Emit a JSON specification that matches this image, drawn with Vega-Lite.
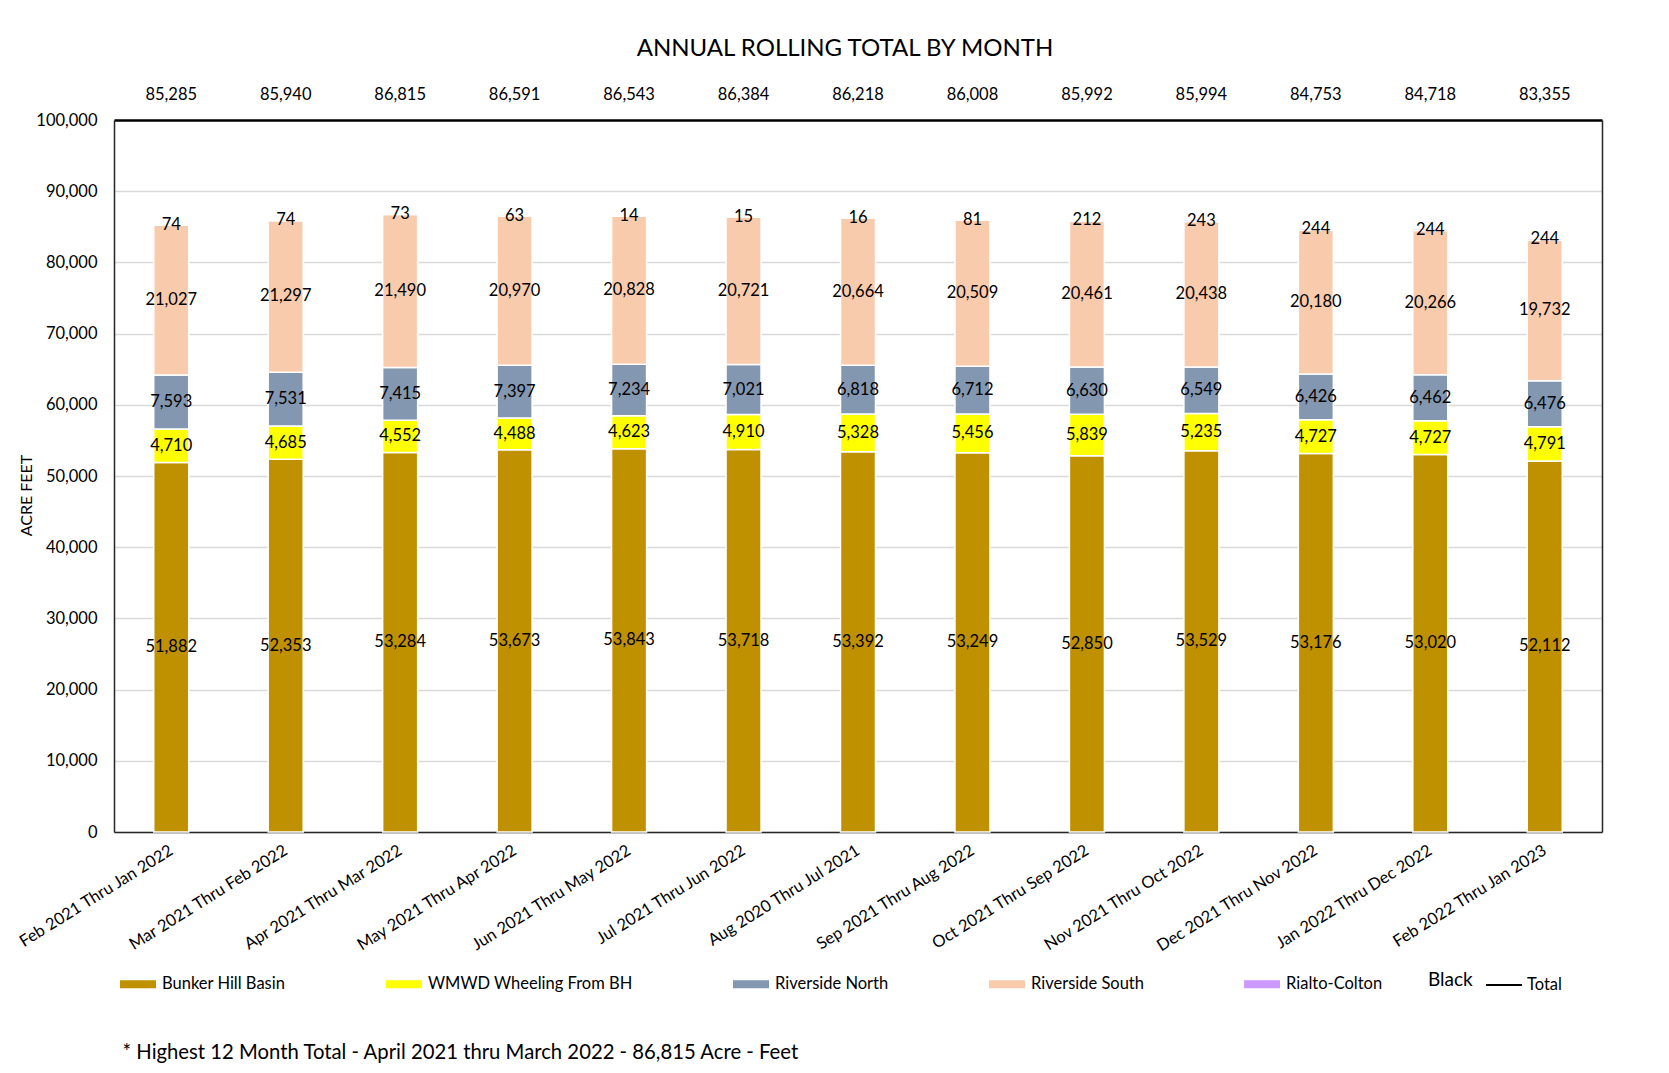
{
  "$schema": "https://vega.github.io/schema/vega-lite/v6.json",
  "width": 1488,
  "height": 712,
  "autosize": {"type": "none"},
  "padding": {"left": 114, "top": 120, "right": 67, "bottom": 241},
  "background": "white",
  "title": {"text": "ANNUAL  ROLLING TOTAL BY MONTH", "fontSize": 24, "fontWeight": "normal", "color": "black", "anchor": "middle", "dx": -13, "offset": 26},
  "config": {
    "font": "Lato",
    "view": {"stroke": null},
    "axis": {"labelColor": "black", "titleColor": "black", "domainColor": "#262626"}
  },
  "datasets": {
    "parts": [
      {"period": "Feb 2021 Thru Jan 2022", "series": "Bunker Hill Basin", "value": 51882},
      {"period": "Feb 2021 Thru Jan 2022", "series": "WMWD Wheeling From BH", "value": 4710},
      {"period": "Feb 2021 Thru Jan 2022", "series": "Riverside North", "value": 7593},
      {"period": "Feb 2021 Thru Jan 2022", "series": "Riverside South", "value": 21027},
      {"period": "Feb 2021 Thru Jan 2022", "series": "Rialto-Colton", "value": 74},
      {"period": "Mar 2021 Thru Feb 2022", "series": "Bunker Hill Basin", "value": 52353},
      {"period": "Mar 2021 Thru Feb 2022", "series": "WMWD Wheeling From BH", "value": 4685},
      {"period": "Mar 2021 Thru Feb 2022", "series": "Riverside North", "value": 7531},
      {"period": "Mar 2021 Thru Feb 2022", "series": "Riverside South", "value": 21297},
      {"period": "Mar 2021 Thru Feb 2022", "series": "Rialto-Colton", "value": 74},
      {"period": "Apr 2021 Thru Mar 2022", "series": "Bunker Hill Basin", "value": 53284},
      {"period": "Apr 2021 Thru Mar 2022", "series": "WMWD Wheeling From BH", "value": 4552},
      {"period": "Apr 2021 Thru Mar 2022", "series": "Riverside North", "value": 7415},
      {"period": "Apr 2021 Thru Mar 2022", "series": "Riverside South", "value": 21490},
      {"period": "Apr 2021 Thru Mar 2022", "series": "Rialto-Colton", "value": 73},
      {"period": "May 2021 Thru Apr 2022", "series": "Bunker Hill Basin", "value": 53673},
      {"period": "May 2021 Thru Apr 2022", "series": "WMWD Wheeling From BH", "value": 4488},
      {"period": "May 2021 Thru Apr 2022", "series": "Riverside North", "value": 7397},
      {"period": "May 2021 Thru Apr 2022", "series": "Riverside South", "value": 20970},
      {"period": "May 2021 Thru Apr 2022", "series": "Rialto-Colton", "value": 63},
      {"period": "Jun 2021 Thru May 2022", "series": "Bunker Hill Basin", "value": 53843},
      {"period": "Jun 2021 Thru May 2022", "series": "WMWD Wheeling From BH", "value": 4623},
      {"period": "Jun 2021 Thru May 2022", "series": "Riverside North", "value": 7234},
      {"period": "Jun 2021 Thru May 2022", "series": "Riverside South", "value": 20828},
      {"period": "Jun 2021 Thru May 2022", "series": "Rialto-Colton", "value": 14},
      {"period": "Jul 2021 Thru Jun 2022", "series": "Bunker Hill Basin", "value": 53718},
      {"period": "Jul 2021 Thru Jun 2022", "series": "WMWD Wheeling From BH", "value": 4910},
      {"period": "Jul 2021 Thru Jun 2022", "series": "Riverside North", "value": 7021},
      {"period": "Jul 2021 Thru Jun 2022", "series": "Riverside South", "value": 20721},
      {"period": "Jul 2021 Thru Jun 2022", "series": "Rialto-Colton", "value": 15},
      {"period": "Aug 2020 Thru Jul 2021", "series": "Bunker Hill Basin", "value": 53392},
      {"period": "Aug 2020 Thru Jul 2021", "series": "WMWD Wheeling From BH", "value": 5328},
      {"period": "Aug 2020 Thru Jul 2021", "series": "Riverside North", "value": 6818},
      {"period": "Aug 2020 Thru Jul 2021", "series": "Riverside South", "value": 20664},
      {"period": "Aug 2020 Thru Jul 2021", "series": "Rialto-Colton", "value": 16},
      {"period": "Sep 2021 Thru Aug 2022", "series": "Bunker Hill Basin", "value": 53249},
      {"period": "Sep 2021 Thru Aug 2022", "series": "WMWD Wheeling From BH", "value": 5456},
      {"period": "Sep 2021 Thru Aug 2022", "series": "Riverside North", "value": 6712},
      {"period": "Sep 2021 Thru Aug 2022", "series": "Riverside South", "value": 20509},
      {"period": "Sep 2021 Thru Aug 2022", "series": "Rialto-Colton", "value": 81},
      {"period": "Oct 2021 Thru Sep 2022", "series": "Bunker Hill Basin", "value": 52850},
      {"period": "Oct 2021 Thru Sep 2022", "series": "WMWD Wheeling From BH", "value": 5839},
      {"period": "Oct 2021 Thru Sep 2022", "series": "Riverside North", "value": 6630},
      {"period": "Oct 2021 Thru Sep 2022", "series": "Riverside South", "value": 20461},
      {"period": "Oct 2021 Thru Sep 2022", "series": "Rialto-Colton", "value": 212},
      {"period": "Nov 2021 Thru Oct 2022", "series": "Bunker Hill Basin", "value": 53529},
      {"period": "Nov 2021 Thru Oct 2022", "series": "WMWD Wheeling From BH", "value": 5235},
      {"period": "Nov 2021 Thru Oct 2022", "series": "Riverside North", "value": 6549},
      {"period": "Nov 2021 Thru Oct 2022", "series": "Riverside South", "value": 20438},
      {"period": "Nov 2021 Thru Oct 2022", "series": "Rialto-Colton", "value": 243},
      {"period": "Dec 2021 Thru Nov 2022", "series": "Bunker Hill Basin", "value": 53176},
      {"period": "Dec 2021 Thru Nov 2022", "series": "WMWD Wheeling From BH", "value": 4727},
      {"period": "Dec 2021 Thru Nov 2022", "series": "Riverside North", "value": 6426},
      {"period": "Dec 2021 Thru Nov 2022", "series": "Riverside South", "value": 20180},
      {"period": "Dec 2021 Thru Nov 2022", "series": "Rialto-Colton", "value": 244},
      {"period": "Jan 2022 Thru Dec 2022", "series": "Bunker Hill Basin", "value": 53020},
      {"period": "Jan 2022 Thru Dec 2022", "series": "WMWD Wheeling From BH", "value": 4727},
      {"period": "Jan 2022 Thru Dec 2022", "series": "Riverside North", "value": 6462},
      {"period": "Jan 2022 Thru Dec 2022", "series": "Riverside South", "value": 20266},
      {"period": "Jan 2022 Thru Dec 2022", "series": "Rialto-Colton", "value": 244},
      {"period": "Feb 2022 Thru Jan 2023", "series": "Bunker Hill Basin", "value": 52112},
      {"period": "Feb 2022 Thru Jan 2023", "series": "WMWD Wheeling From BH", "value": 4791},
      {"period": "Feb 2022 Thru Jan 2023", "series": "Riverside North", "value": 6476},
      {"period": "Feb 2022 Thru Jan 2023", "series": "Riverside South", "value": 19732},
      {"period": "Feb 2022 Thru Jan 2023", "series": "Rialto-Colton", "value": 244}
    ],
    "totals": [
      {"period": "Feb 2021 Thru Jan 2022", "total": 85285},
      {"period": "Mar 2021 Thru Feb 2022", "total": 85940},
      {"period": "Apr 2021 Thru Mar 2022", "total": 86815},
      {"period": "May 2021 Thru Apr 2022", "total": 86591},
      {"period": "Jun 2021 Thru May 2022", "total": 86543},
      {"period": "Jul 2021 Thru Jun 2022", "total": 86384},
      {"period": "Aug 2020 Thru Jul 2021", "total": 86218},
      {"period": "Sep 2021 Thru Aug 2022", "total": 86008},
      {"period": "Oct 2021 Thru Sep 2022", "total": 85992},
      {"period": "Nov 2021 Thru Oct 2022", "total": 85994},
      {"period": "Dec 2021 Thru Nov 2022", "total": 84753},
      {"period": "Jan 2022 Thru Dec 2022", "total": 84718},
      {"period": "Feb 2022 Thru Jan 2023", "total": 83355}
    ]
  },
  "resolve": {"axis": {"x": "independent", "y": "independent"}},
  "layer": [
    {
      "data": {"name": "parts"},
      "transform": [{"stack": "value", "groupby": ["period"], "as": ["y0", "y1"]}],
      "mark": {"type": "bar", "width": 35, "stroke": "white", "strokeWidth": 1.5},
      "encoding": {
        "x": {
          "field": "period", "type": "nominal", "sort": null,
          "scale": {"paddingInner": 0, "paddingOuter": 0},
          "axis": {
            "title": "* Highest 12 Month Total - April 2021 thru March 2022 - 86,815  Acre - Feet",
            "titleFontSize": 20.3, "titleFontWeight": "normal", "titleAnchor": "start", "titleAlign": "left",
            "titleBaseline": "middle", "titleX": 8, "titleY": 220, "titleAngle": 0,
            "labelAngle": -32, "labelAlign": "right", "labelBaseline": "top", "labelPadding": 10, "labelOffset": -4,
            "labelFontSize": 16.5, "ticks": false, "domain": true, "domainWidth": 1.5, "grid": false,
            "labelLimit": 400
          }
        },
        "y": {
          "field": "y0", "type": "quantitative",
          "scale": {"domain": [0, 100000], "nice": false},
          "axis": {
            "title": "ACRE FEET", "titleFontSize": 16, "titleFontWeight": "normal",
            "titleX": -88, "titleY": 375, "titleAngle": -90, "titleAlign": "center", "titleBaseline": "middle",
            "values": [0, 10000, 20000, 30000, 40000, 50000, 60000, 70000, 80000, 90000, 100000],
            "labelExpr": "format(datum.value, ',')", "labelFontSize": 16.5, "labelPadding": 17, "ticks": false,
            "domain": true, "domainWidth": 1.5, "grid": true, "gridColor": "#D9D9D9", "gridWidth": 1.5
          }
        },
        "y2": {"field": "y1"},
        "color": {
          "field": "series", "type": "nominal",
          "scale": {
            "domain": ["Bunker Hill Basin", "WMWD Wheeling From BH", "Riverside North", "Riverside South", "Rialto-Colton"],
            "range": ["#BF9000", "#FFFF00", "#8497B0", "#F8CBAD", "#CC99FF"]
          },
          "legend": {
            "title": null, "orient": "none", "legendX": 6, "legendY": 846, "direction": "horizontal",
            "symbolType": "M-1,-0.22H1V0.22H-1Z", "symbolSize": 1296, "symbolStrokeWidth": 0,
            "labelFontSize": 16.5, "labelColor": "black", "labelOffset": 6, "columnPadding": 100,
            "labelLimit": 400
          }
        }
      }
    },
    {
      "data": {"name": "parts"},
      "transform": [
        {"stack": "value", "groupby": ["period"], "as": ["y0", "y1"]},
        {"fold": ["y0", "y1"], "as": ["edge", "pos"]},
        {"aggregate": [{"op": "mean", "field": "pos", "as": "mid"}], "groupby": ["period", "series", "value"]}
      ],
      "mark": {"type": "text", "fontSize": 16.5, "color": "black", "baseline": "middle", "align": "center"},
      "encoding": {
        "x": {
          "field": "period", "type": "nominal", "sort": null,
          "axis": {"orient": "top", "labels": false, "ticks": false, "title": null, "domain": true, "domainWidth": 2.5, "domainColor": "black", "grid": false}
        },
        "y": {
          "field": "mid", "type": "quantitative",
          "axis": {"orient": "right", "labels": false, "ticks": false, "title": null, "domain": true, "domainWidth": 1.5, "grid": false}
        },
        "text": {"field": "value", "type": "quantitative", "format": ","}
      }
    },
    {
      "data": {"name": "totals"},
      "mark": {"type": "line", "strokeOpacity": 0},
      "encoding": {
        "x": {"field": "period", "type": "nominal", "sort": null, "axis": null},
        "y": {"field": "total", "type": "quantitative", "axis": null},
        "stroke": {
          "datum": "Total",
          "scale": {"range": ["black"]},
          "legend": {
            "title": "Black", "titleOrient": "left", "titleFontSize": 19, "titleFontWeight": "normal", "titleColor": "black",
            "titlePadding": 12, "orient": "none", "legendX": 1314, "legendY": 846,
            "symbolType": "stroke", "symbolSize": 1296, "symbolStrokeWidth": 2, "symbolStrokeColor": "black",
            "labelFontSize": 16.5, "labelColor": "black", "labelOffset": 4,
            "encode": {"symbols": {"update": {"strokeOpacity": {"value": 1}, "opacity": {"value": 1}}}}
          }
        }
      }
    },
    {
      "data": {"name": "totals"},
      "mark": {"type": "text", "fontSize": 16.5, "color": "black", "baseline": "middle", "align": "center", "dy": -25},
      "encoding": {
        "x": {"field": "period", "type": "nominal", "sort": null, "axis": null},
        "y": {"datum": 100000, "type": "quantitative", "axis": null},
        "text": {"field": "total", "type": "quantitative", "format": ","}
      }
    }
  ]
}
